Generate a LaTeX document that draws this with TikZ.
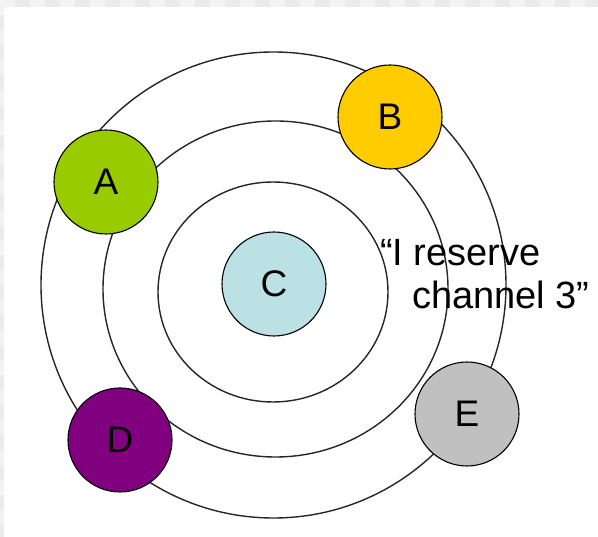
\documentclass[tikz,border=0pt]{standalone}
\usepackage{fontspec}
\setmainfont{Liberation Sans}
\definecolor{cA}{HTML}{99CC00}
\definecolor{cB}{HTML}{FFCC00}
\definecolor{cC}{HTML}{BBE1E5}
\definecolor{cD}{HTML}{800080}
\definecolor{cE}{HTML}{C0C0C0}
\definecolor{chkA}{HTML}{F3F3F3}
\definecolor{chkB}{HTML}{EBEBEB}
\tikzset{
  ring/.style={draw=black!85, line width=1.4pt},
  station/.style={circle, draw=black, line width=1.1pt, minimum size=104pt, inner sep=0pt,
    font=\fontsize{37}{40}\selectfont},
  quote/.style={anchor=base west, inner sep=0pt, font=\fontsize{38}{43}\selectfont}
}
\begin{document}
\begin{tikzpicture}[x=1pt,y=-1pt]
\useasboundingbox (0,0) rectangle (598,537);
% checkered margin
\fill[chkA] (0,0) rectangle (598,537);
\foreach \i in {0,...,40} {
  \pgfmathsetmacro{\xx}{\i*15}
  \ifodd\i \fill[chkB] (\xx,0) rectangle ++(15,7); \fi
}
\foreach \j in {0,...,36} {
  \pgfmathsetmacro{\yy}{\j*15}
  \ifodd\j \fill[chkB] (0,\yy) rectangle ++(4,15); \fi
}
\fill[white] (4,7) rectangle (598,537);
% rings
\draw[ring] (273.5,285) ellipse [x radius=232.5pt, y radius=233pt];
\draw[ring] (275.5,289) ellipse [x radius=172.5pt, y radius=168pt];
\draw[ring] (273,292) ellipse [x radius=115pt, y radius=110pt];
% quote
\node[quote] (q1) at (380,266) {“I reserve};
\node[quote] (q2) at (412,309) {channel 3”};
% stations
\node[station, fill=cA] (A) at (106,182) {A};
\node[station, fill=cB] (B) at (390,117) {B};
\node[station, fill=cC] (C) at (274,284) {C};
\node[station, fill=cD] (D) at (120,440) {D};
\node[station, fill=cE] (E) at (467,414) {E};
\end{tikzpicture}
\end{document}
